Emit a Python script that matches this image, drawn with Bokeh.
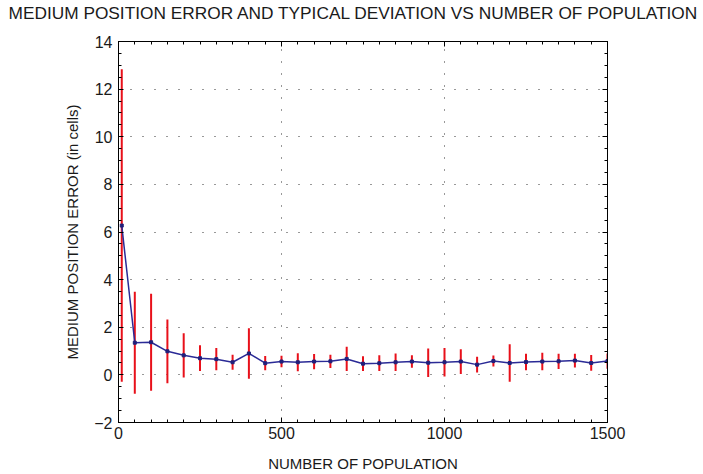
from bokeh.plotting import figure
from bokeh.models import LinearAxis, Range1d, FixedTicker
from bokeh.embed import file_html
from bokeh.resources import INLINE

population = [10, 50, 100, 150, 200, 250, 300, 350, 400, 450, 500, 550, 600, 650, 700,
              750, 800, 850, 900, 950, 1000, 1050, 1100, 1150, 1200, 1250, 1300, 1350,
              1400, 1450, 1500]
mean_error = [6.27, 1.35, 1.37, 0.99, 0.82, 0.70, 0.66, 0.53, 0.90, 0.49, 0.56, 0.53,
              0.56, 0.57, 0.67, 0.47, 0.49, 0.53, 0.56, 0.51, 0.53, 0.56, 0.43, 0.58,
              0.50, 0.54, 0.56, 0.57, 0.60, 0.50, 0.58]
std_dev = [6.56, 2.14, 2.04, 1.34, 0.93, 0.54, 0.47, 0.32, 1.06, 0.30, 0.24, 0.38,
           0.32, 0.28, 0.51, 0.31, 0.33, 0.37, 0.26, 0.60, 0.60, 0.52, 0.33, 0.23,
           0.79, 0.35, 0.37, 0.32, 0.29, 0.33, 0.32]

x_ticks = [0, 500, 1000, 1500]
y_ticks = [-2, 0, 2, 4, 6, 8, 10, 12, 14]
title_text = "MEDIUM POSITION ERROR AND TYPICAL DEVIATION VS NUMBER OF POPULATION"

FONT = "Liberation Sans"

p = figure(width=703, height=474, output_backend="svg", toolbar_location=None,
           x_range=Range1d(0, 1500), y_range=Range1d(-2, 14),
           min_border_left=118, min_border_right=96, min_border_top=41, min_border_bottom=49)

p.title.text = title_text
p.title.text_font = FONT
p.title.text_font_size = "17.3px"
p.title.text_font_style = "normal"
p.title.align = "left"
p.title.offset = -110
p.title.vertical_align = "top"
p.title.standoff = 5
p.title.text_color = "#1a1a1a"

p.outline_line_color = "black"
p.outline_line_width = 1
p.background_fill_color = "white"
p.border_fill_color = "white"

for ax in (p.xaxis[0], p.yaxis[0]):
    ax.major_tick_in = 5
    ax.major_tick_out = 0
    ax.minor_tick_in = 3
    ax.minor_tick_out = 0
    ax.axis_line_color = "black"
    ax.major_label_text_font = FONT
    ax.major_label_text_font_size = "16px"
    ax.major_label_text_color = "#1a1a1a"
    ax.axis_label_text_font = FONT
    ax.axis_label_text_font_size = "15px"
    ax.axis_label_text_font_style = "normal"
    ax.axis_label_text_color = "#1a1a1a"

p.xaxis[0].ticker = FixedTicker(ticks=x_ticks, minor_ticks=list(range(0, 1501, 50)))
p.yaxis[0].ticker = FixedTicker(ticks=y_ticks, minor_ticks=[v / 2 for v in range(-4, 29)])
p.xaxis[0].axis_label = "NUMBER OF POPULATION"
p.yaxis[0].axis_label = "MEDIUM POSITION ERROR (in cells)"
p.xaxis[0].major_label_standoff = 4
p.yaxis[0].major_label_standoff = 6
p.xaxis[0].axis_label_standoff = 13
p.yaxis[0].axis_label_standoff = 10

top_ax = LinearAxis(ticker=FixedTicker(ticks=x_ticks, minor_ticks=list(range(0, 1501, 50))),
                    major_label_overrides={v: "" for v in x_ticks},
                    axis_label=" ", axis_label_text_font_size="10px", axis_label_standoff=0)
right_ax = LinearAxis(ticker=FixedTicker(ticks=y_ticks, minor_ticks=[v / 2 for v in range(-4, 29)]),
                      major_label_overrides={v: "" for v in y_ticks})
for ax in (top_ax, right_ax):
    ax.major_tick_in = 5
    ax.major_tick_out = 0
    ax.minor_tick_in = 3
    ax.minor_tick_out = 0
    ax.major_label_standoff = 0
    ax.major_label_text_font_size = "1px"
p.add_layout(top_ax, "above")
p.add_layout(right_ax, "right")

p.xgrid.ticker = FixedTicker(ticks=x_ticks)
p.ygrid.ticker = FixedTicker(ticks=y_ticks)
for g in (p.xgrid[0], p.ygrid[0]):
    g.grid_line_color = "black"
    g.grid_line_dash = "1 11"
    g.grid_line_width = 1
    g.grid_line_alpha = 0.8

upper = [m + s for m, s in zip(mean_error, std_dev)]
lower = [m - s for m, s in zip(mean_error, std_dev)]

p.segment(x0=population, y0=lower, x1=population, y1=upper, line_color="#e8101a", line_width=2)
p.line(population, mean_error, line_color="#2a2a96", line_width=1.5)
p.scatter(population, mean_error, marker="square", size=3, color="#20207a")

open("out.html", "w").write(file_html(p, INLINE))
